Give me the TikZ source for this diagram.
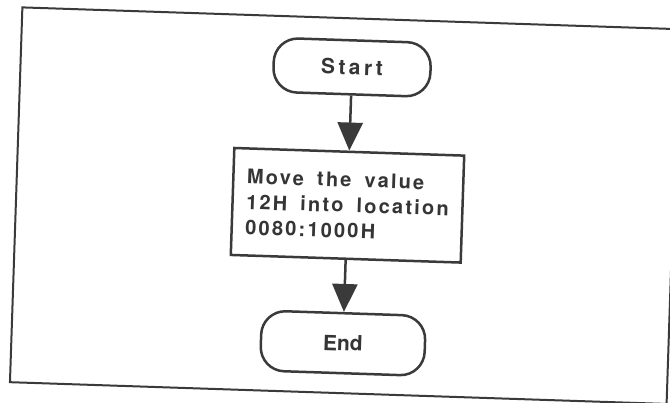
\documentclass[tikz,border=0pt]{standalone}
\usepackage{fontspec}
\setmainfont{TeX Gyre Heros}
\newfontfamily\stepfont[LetterSpace=11,WordSpace=1.7]{TeX Gyre Heros}
\newfontfamily\startfont[LetterSpace=16]{TeX Gyre Heros}
\newfontfamily\endfont{TeX Gyre Heros}
\usetikzlibrary{arrows.meta}

\definecolor{inkgray}{HTML}{3A3A3A}
\definecolor{textgray}{HTML}{353535}

\tikzset{
  ink/.style={draw=inkgray, line width=2.5pt},
  terminal/.style={ink, rounded corners=24pt, text=textgray, inner sep=0pt},
  process/.style={ink, minimum width=230pt, minimum height=107pt,
    align=left, inner sep=0pt, text=textgray,
    font=\stepfont\bfseries\fontsize{20}{25.5}\selectfont},
  flow/.style={draw=inkgray, line width=2.5pt,
    -{Triangle[length=28pt,width=25pt,fill=inkgray]}},
  frameline/.style={draw=inkgray, line width=2pt, line join=miter}
}

\begin{document}
\begin{tikzpicture}[x=1pt,y=-1pt]
  \useasboundingbox (0,0) rectangle (670,403);
  \clip (0,0) rectangle (670,403);
  \fill[white] (0,0) rectangle (670,403);

  \begin{scope}[rotate around={-1.9:(339,205)}, transform shape]
    % outer frame
    \draw[frameline] (16,18) rectangle (673,393);

    % flowchart
    \node[terminal, minimum width=157pt, minimum height=54pt,
          font=\startfont\bfseries\fontsize{21}{25}\selectfont]
          (start) at (347.5,67) {Start};
    \node[process] (move) at (347.5,205)
          {Move the value\\12H into location\\0080:1000H};
    \node[terminal, minimum width=164pt, minimum height=60pt,
          font=\endfont\bfseries\fontsize{21}{25}\selectfont]
          (stop) at (347.5,343) {End};

    \draw[flow] (start) -- (move);
    \draw[flow] (move) -- (stop);
  \end{scope}
\end{tikzpicture}
\end{document}
